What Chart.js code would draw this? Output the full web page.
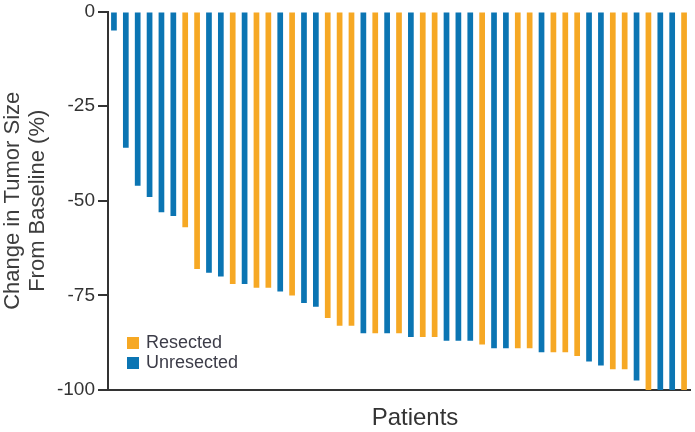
<!DOCTYPE html>
<html>
<head>
<meta charset="utf-8">
<script src="https://cdn.jsdelivr.net/npm/chart.js@4"></script>
<style>
html, body { margin: 0; padding: 0; background: #fff; }
#wrap { width: 695px; height: 432px; }
</style>
</head>
<body>
<div id="wrap"><canvas id="grafico"></canvas></div>
<script>
// R = Resected, U = Unresected (one entry per patient, sorted like the waterfall)
const groups = ['U','U','U','U','U','U','R','R','U','U','R','U','R','R','U','R',
                'U','U','R','R','R','U','R','U','R','U','R','R','U','U','U','R',
                'U','U','R','R','U','R','R','R','U','U','R','R','U','R','U','U','R'];
const values = [-5, -36, -46, -49, -53, -54, -57, -68, -69, -70, -72, -72, -73, -73, -74, -75,
                -77, -78, -81, -83, -83, -85, -85, -85, -85, -86, -86, -86, -87, -87, -87, -88,
                -89, -89, -89, -89, -90, -90, -90, -91, -92.5, -93.5, -94.5, -94.5, -97.5, -100, -100, -100, -100];
const seriesNames = ['Resected', 'Unresected'];
const seriesColors = { R: '#f6a824', U: '#0b75b3' };
const yTicks = [0, -25, -50, -75, -100];
const patients = values.map((v, i) => 'Patient ' + (i + 1));

const fonte = '"Liberation Sans", Arial, sans-serif';

// legenda dentro da área do gráfico e título do eixo x
const extras = {
    id: 'extras',
    afterDraw(chart) {
        const c = chart.ctx;
        const area = chart.chartArea;
        c.save();
        c.font = '18px ' + fonte;
        c.textBaseline = 'middle';
        c.textAlign = 'left';
        ['R', 'U'].forEach((g, i) => {
            const y = area.bottom - 47 + i * 20;
            c.fillStyle = seriesColors[g];
            c.fillRect(area.left + 19, y - 6, 12, 12);
            c.fillStyle = '#3c3c48';
            c.fillText(seriesNames[i], area.left + 38, y);
        });
        c.font = '24px ' + fonte;
        c.textAlign = 'center';
        c.fillStyle = '#333';
        c.fillText('Patients', 415, area.bottom + 28);
        c.restore();
    }
};

new Chart(document.getElementById('grafico'), {
    type: 'bar',
    data: {
        labels: patients,
        datasets: [{
            data: values,
            backgroundColor: groups.map(g => seriesColors[g]),
            barPercentage: 0.48,
            categoryPercentage: 1
        }]
    },
    options: {
        responsive: true,
        maintainAspectRatio: false,
        animation: false,
        layout: { padding: { top: 9, right: 5, left: 0, bottom: 0 } },
        plugins: {
            legend: { display: false },
            tooltip: { enabled: false }
        },
        scales: {
            x: {
                grid: { display: false },
                border: { display: true, color: '#333', width: 2 },
                ticks: { display: false },
                afterFit(s) { s.height = 42; }
            },
            y: {
                min: -100,
                max: 0,
                afterBuildTicks(s) { s.ticks = yTicks.map(v => ({ value: v })); },
                grid: { drawOnChartArea: false, drawTicks: true, tickLength: 10, color: '#333', lineWidth: 2 },
                border: { display: true, color: '#333', width: 2 },
                ticks: { color: '#333', padding: 3, font: { family: fonte, size: 19, lineHeight: 0.9 } },
                title: {
                    display: true,
                    text: ['Change in Tumor Size', 'From Baseline (%)'],
                    color: '#3d3d3d',
                    padding: 0,
                    font: { family: fonte, size: 22, lineHeight: 1.15 }
                },
                afterFit(s) { s.width = 108; }
            }
        }
    },
    plugins: [extras]
});
</script>
</body>
</html>
